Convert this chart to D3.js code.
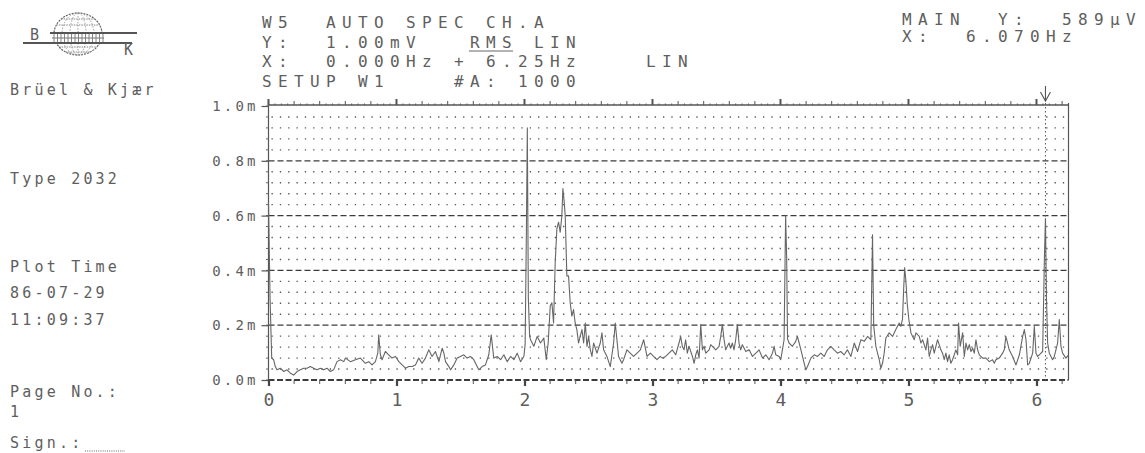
<!DOCTYPE html>
<html><head><meta charset="utf-8">
<script src="https://cdn.jsdelivr.net/npm/d3@7"></script>
<style>
html,body{margin:0;padding:0;background:#fff;}
svg{display:block;}
text{font-family:"DejaVu Sans Mono",monospace;fill:#5e5e5e;}
</style></head><body>
<svg id="c" width="1145" height="453"></svg>
<script>
// ---- data ----
const spectrum = [
[0.000,0.65],[0.012,0.30],[0.025,0.08],
[0.040,0.074],[0.053,0.049],[0.066,0.037],[0.092,0.043],[0.119,0.031],[0.145,0.037],[0.171,0.025],[0.197,0.018],[0.223,0.031],[0.249,0.037],[0.275,0.043],[0.301,0.043],[0.327,0.049],[0.353,0.043],[0.379,0.037],[0.405,0.043],[0.431,0.037],[0.457,0.043],[0.483,0.031],[0.509,0.037],[0.535,0.067],[0.562,0.074],[0.588,0.067],[0.601,0.080],[0.640,0.067],[0.679,0.074],[0.718,0.080],[0.757,0.061],[0.783,0.067],[0.809,0.055],[0.835,0.067],[0.854,0.098],[0.861,0.165],[0.874,0.092],[0.887,0.074],[0.913,0.104],[0.939,0.092],[0.965,0.080],[0.992,0.086],
[1.018,0.067],[1.044,0.055],[1.070,0.043],[1.096,0.049],[1.122,0.049],[1.148,0.055],[1.174,0.080],[1.200,0.061],[1.226,0.080],[1.252,0.110],[1.278,0.086],[1.304,0.104],[1.331,0.067],[1.357,0.116],[1.370,0.098],[1.383,0.067],[1.409,0.049],[1.422,0.037],[1.448,0.055],[1.474,0.080],[1.500,0.086],[1.526,0.092],[1.552,0.080],[1.578,0.086],[1.604,0.074],[1.630,0.049],[1.643,0.037],[1.669,0.049],[1.695,0.055],[1.721,0.092],[1.740,0.165],[1.760,0.080],[1.787,0.086],[1.813,0.074],[1.839,0.092],[1.865,0.067],[1.891,0.086],[1.917,0.074],[1.943,0.098],[1.969,0.067],[1.995,0.086],
[2.005,0.13],[2.015,0.55],[2.022,0.92],[2.030,0.30],[2.040,0.16],[2.047,0.147],[2.073,0.123],[2.099,0.159],[2.125,0.135],[2.151,0.153],[2.170,0.074],[2.185,0.135],[2.201,0.270],[2.214,0.282],[2.227,0.208],[2.240,0.429],[2.253,0.552],[2.266,0.576],[2.279,0.539],[2.292,0.600],[2.300,0.699],[2.310,0.650],[2.318,0.600],[2.331,0.380],[2.344,0.380],[2.357,0.282],[2.370,0.233],[2.383,0.257],[2.396,0.208],[2.409,0.184],[2.422,0.135],[2.435,0.159],[2.449,0.184],[2.462,0.135],[2.475,0.208],[2.488,0.123],[2.501,0.159],[2.514,0.110],[2.527,0.086],[2.540,0.135],[2.566,0.098],[2.592,0.135],[2.605,0.172],[2.618,0.110],[2.644,0.086],[2.670,0.049],[2.696,0.135],[2.709,0.208],[2.722,0.147],[2.735,0.086],[2.761,0.061],[2.774,0.074],[2.800,0.110],[2.826,0.098],[2.852,0.086],[2.879,0.098],[2.905,0.110],[2.931,0.147],[2.957,0.086],[2.983,0.098],
[3.009,0.086],[3.035,0.074],[3.061,0.086],[3.077,0.080],[3.103,0.086],[3.129,0.098],[3.155,0.110],[3.181,0.092],[3.207,0.135],[3.220,0.159],[3.233,0.123],[3.246,0.110],[3.259,0.147],[3.272,0.098],[3.285,0.123],[3.312,0.086],[3.325,0.061],[3.338,0.092],[3.351,0.110],[3.364,0.080],[3.377,0.202],[3.390,0.110],[3.403,0.123],[3.416,0.098],[3.442,0.110],[3.455,0.129],[3.468,0.123],[3.494,0.110],[3.520,0.123],[3.533,0.159],[3.546,0.202],[3.559,0.147],[3.572,0.110],[3.585,0.123],[3.598,0.135],[3.611,0.116],[3.624,0.135],[3.637,0.110],[3.650,0.147],[3.663,0.202],[3.676,0.135],[3.689,0.110],[3.702,0.129],[3.729,0.104],[3.755,0.110],[3.781,0.086],[3.807,0.098],[3.833,0.110],[3.859,0.080],[3.885,0.092],[3.911,0.074],[3.937,0.098],[3.950,0.123],[3.963,0.092],[3.989,0.086],
[4.002,0.074],[4.015,0.110],[4.028,0.147],[4.040,0.60],[4.048,0.45],[4.055,0.15],[4.067,0.135],[4.093,0.123],[4.119,0.141],[4.132,0.159],[4.146,0.135],[4.172,0.086],[4.185,0.061],[4.198,0.037],[4.211,0.049],[4.237,0.080],[4.263,0.092],[4.289,0.086],[4.315,0.098],[4.341,0.086],[4.367,0.110],[4.393,0.123],[4.419,0.110],[4.445,0.098],[4.471,0.104],[4.497,0.092],[4.523,0.110],[4.550,0.086],[4.576,0.135],[4.602,0.104],[4.628,0.147],[4.654,0.141],[4.680,0.159],[4.706,0.147],[4.719,0.53],[4.728,0.20],[4.745,0.123],[4.771,0.074],[4.784,0.043],[4.797,0.061],[4.810,0.098],[4.823,0.153],[4.849,0.172],[4.875,0.159],[4.901,0.184],[4.927,0.208],[4.940,0.196],[4.953,0.221],[4.962,0.33],[4.970,0.41],[4.980,0.36],[4.990,0.28],
[5.003,0.22],[5.019,0.172],[5.032,0.159],[5.045,0.147],[5.058,0.172],[5.084,0.159],[5.097,0.135],[5.110,0.147],[5.136,0.110],[5.149,0.153],[5.162,0.086],[5.175,0.110],[5.188,0.129],[5.201,0.098],[5.214,0.123],[5.227,0.147],[5.240,0.129],[5.253,0.110],[5.266,0.098],[5.279,0.074],[5.292,0.098],[5.305,0.067],[5.318,0.092],[5.331,0.061],[5.344,0.074],[5.370,0.110],[5.384,0.092],[5.391,0.208],[5.404,0.123],[5.423,0.172],[5.436,0.086],[5.449,0.135],[5.462,0.110],[5.475,0.129],[5.488,0.104],[5.501,0.116],[5.514,0.098],[5.527,0.147],[5.540,0.110],[5.553,0.092],[5.579,0.080],[5.605,0.080],[5.631,0.067],[5.657,0.074],[5.670,0.061],[5.683,0.074],[5.709,0.080],[5.735,0.098],[5.748,0.110],[5.761,0.159],[5.774,0.135],[5.787,0.110],[5.813,0.086],[5.840,0.055],[5.866,0.092],[5.892,0.159],[5.905,0.184],[5.918,0.147],[5.931,0.055],[5.944,0.061],[5.970,0.098],[5.983,0.196],[5.996,0.098],
[6.009,0.086],[6.022,0.092],[6.035,0.098],[6.048,0.104],[6.062,0.45],[6.070,0.589],[6.078,0.30],[6.087,0.135],[6.100,0.098],[6.126,0.074],[6.139,0.086],[6.165,0.135],[6.178,0.221],[6.191,0.123],[6.204,0.098],[6.230,0.080],[6.250,0.092]
];
const xTicks = [0,1,2,3,4,5,6];
const yTicks = [0,0.2,0.4,0.6,0.8,1.0];
const xDomain = [0, 6.25];
const yDomain = [0, 1.0];
const cursorHz = 6.070;
const headerLeft = ["W5  AUTO SPEC CH.A", "Y:  1.00mV   RMS LIN", "X:  0.000Hz + 6.25Hz    LIN", "SETUP W1    #A: 1000"];
const headerRight = ["MAIN  Y:  589µV", "X:  6.070Hz"];
const sideLabels = ["Brüel & Kjær", "Type 2032", "Plot Time", "86-07-29", "11:09:37", "Page No.:", "1", "Sign.:"];

// ---- drawing ----
const svg = d3.select("#c");
const x = d3.scaleLinear().domain(xDomain).range([268.5, 1068.5]);
const y = d3.scaleLinear().domain(yDomain).range([380, 106]);

// logo
const logo = svg.append("g");
const cx = 78, cy = 34, rx = 24, ry = 21;
logo.append("ellipse").attr("cx",cx).attr("cy",cy).attr("rx",rx).attr("ry",ry)
  .attr("fill","none").attr("stroke","#666").attr("stroke-width",1.2).attr("stroke-dasharray","2,1");
[16,8].forEach(r=>logo.append("ellipse").attr("cx",cx).attr("cy",cy).attr("rx",r).attr("ry",ry)
  .attr("fill","none").attr("stroke","#888").attr("stroke-width",0.8).attr("stroke-dasharray","1.5,1.5"));
logo.append("line").attr("x1",cx).attr("x2",cx).attr("y1",cy-ry).attr("y2",cy+ry).attr("stroke","#888").attr("stroke-width",0.8).attr("stroke-dasharray","1.5,1.5");
[-15,-9,13,18].forEach(dy=>{
  const hw = rx*Math.sqrt(1-(dy*dy)/(ry*ry));
  logo.append("line").attr("x1",cx-hw).attr("x2",cx+hw).attr("y1",cy+dy).attr("y2",cy+dy)
    .attr("stroke","#777").attr("stroke-width",0.9).attr("stroke-dasharray","1.5,1");
});
logo.append("rect").attr("x",52).attr("y",33).attr("width",52).attr("height",10).attr("fill","#fff");
d3.range(54,104,3.5).forEach(hx=>logo.append("line").attr("x1",hx).attr("x2",hx).attr("y1",34).attr("y2",42).attr("stroke","#777").attr("stroke-width",0.9));
logo.append("line").attr("x1",50).attr("x2",137).attr("y1",33).attr("y2",33).attr("stroke","#555").attr("stroke-width",1.8);
logo.append("line").attr("x1",23).attr("x2",132).attr("y1",43).attr("y2",43).attr("stroke","#555").attr("stroke-width",1.8);
logo.append("line").attr("x1",52).attr("x2",104).attr("y1",38).attr("y2",38).attr("stroke","#777").attr("stroke-width",1);
logo.append("text").attr("x",30).attr("y",40).attr("font-size",15).text("B");
logo.append("text").attr("x",124).attr("y",55).attr("font-size",15).text("K");

// side labels
const sidePos = [[10,95],[10,184],[10,272],[10,298],[10,325],[10,397],[10,417],[10,448]];
svg.append("g").selectAll("text").data(sideLabels).join("text")
  .attr("x",(d,i)=>sidePos[i][0]).attr("y",(d,i)=>sidePos[i][1])
  .attr("font-size",15).attr("letter-spacing",3.2).text(d=>d);
svg.append("line").attr("x1",85).attr("x2",125).attr("y1",451).attr("y2",451)
  .attr("stroke","#666").attr("stroke-width",1).attr("stroke-dasharray","1,1.2");

// header
const hl = svg.append("g").attr("font-size",16).attr("letter-spacing",6.37);
hl.selectAll("text").data(headerLeft).join("text")
  .attr("x",262).attr("y",(d,i)=>28+i*19.7).style("white-space","pre").text(d=>d);
// RMS underline (columns 13..15 at 16px pitch), just under line 2
svg.append("line").attr("x1",262+13*16-1).attr("x2",262+15*16+11).attr("y1",51).attr("y2",51)
  .attr("stroke","#666").attr("stroke-width",1.2);
const hr = svg.append("g").attr("font-size",16).attr("letter-spacing",6.37);
hr.selectAll("text").data(headerRight).join("text")
  .attr("x",902).attr("y",(d,i)=>25+i*17).style("white-space","pre").text(d=>d);

// grid: dotted rows every 0.04, dashed every 0.2
const dotRows = d3.range(1,25).map(i=>i*0.04).filter(v=>Math.abs(v/0.2-Math.round(v/0.2))>1e-6);
svg.append("g").selectAll("line").data(dotRows).join("line")
  .attr("x1",x(0)+3).attr("x2",x(6.25)-2).attr("y1",d=>y(d)).attr("y2",d=>y(d))
  .attr("stroke","#555").attr("stroke-width",1.4).attr("stroke-dasharray","1.3,7.03");
svg.append("g").selectAll("line").data([0.2,0.4,0.6,0.8]).join("line")
  .attr("x1",x(0)).attr("x2",x(6.25)).attr("y1",d=>y(d)).attr("y2",d=>y(d))
  .attr("stroke","#3c3c3c").attr("stroke-width",1.3).attr("stroke-dasharray","6,3");
svg.append("line").attr("x1",x(0)).attr("x2",x(6.25)).attr("y1",y(0)).attr("y2",y(0))
  .attr("stroke","#3c3c3c").attr("stroke-width",2).attr("stroke-dasharray","6,2.5");

// top ruler & borders
const ruler = svg.append("g").attr("stroke","#555");
ruler.append("line").attr("x1",x(0)).attr("x2",x(6.25)).attr("y1",105).attr("y2",105).attr("stroke-width",1.3);
ruler.selectAll("line.s").data(d3.range(0,126).map(i=>i*0.05)).join("line").attr("class","s")
  .attr("x1",d=>x(d)).attr("x2",d=>x(d)).attr("y1",105).attr("y2",d=>{
    const r=Math.round(d*100);
    if(r%100===0) return 99; if(r%20===0) return 101; return 103.5;})
  .attr("stroke-width",d=>Math.round(d*100)%100===0?2:1);
svg.append("line").attr("x1",x(6.25)).attr("x2",x(6.25)).attr("y1",103).attr("y2",380).attr("stroke","#555").attr("stroke-width",1.2);
svg.append("line").attr("x1",x(0)).attr("x2",x(0)).attr("y1",102).attr("y2",382).attr("stroke","#555").attr("stroke-width",1.2);
svg.append("g").selectAll("line").data(d3.range(0,26).map(i=>i*0.04)).join("line")
  .attr("x1",x(0)-2.5).attr("x2",x(0)).attr("y1",d=>y(d)).attr("y2",d=>y(d)).attr("stroke","#666").attr("stroke-width",1);

// axes
const ya = svg.append("g").attr("transform",`translate(${x(0)},0)`)
  .call(d3.axisLeft(y).tickValues(yTicks).tickFormat(d=>d.toFixed(1)+"m").tickSizeInner(7).tickSizeOuter(0).tickPadding(6));
ya.select(".domain").remove();
ya.selectAll("line").attr("stroke","#555").attr("stroke-width",1.2);
ya.selectAll("text").attr("font-size",14).attr("letter-spacing",3.2).attr("font-family","DejaVu Sans Mono").attr("fill","#5e5e5e").attr("dy","0.34em").attr("dx",3.2);

const xa = svg.append("g").attr("transform",`translate(0,${y(0)})`)
  .call(d3.axisBottom(x).tickValues(xTicks).tickFormat(d3.format("d")).tickSizeInner(6).tickSizeOuter(0).tickPadding(7));
xa.select(".domain").remove();
xa.selectAll("line").attr("stroke","#444").attr("stroke-width",2.2);
xa.selectAll("text").attr("font-size",18).attr("font-family","DejaVu Sans Mono").attr("fill","#5e5e5e");
svg.append("g").selectAll("line").data(d3.range(0,32).map(i=>i*0.2).filter(d=>Math.abs(d-Math.round(d))>1e-6 && d<=6.25)).join("line")
  .attr("x1",d=>x(d)).attr("x2",d=>x(d)).attr("y1",y(0)).attr("y2",y(0)+4).attr("stroke","#555").attr("stroke-width",1);

// cursor
const cx0 = x(cursorHz);
svg.append("line").attr("x1",cx0).attr("x2",cx0).attr("y1",103).attr("y2",380)
  .attr("stroke","#555").attr("stroke-width",1).attr("stroke-dasharray","1.5,2.5");
svg.append("path").attr("d",`M${cx0},86V101M${cx0-5},92L${cx0},101L${cx0+5},92`)
  .attr("fill","none").attr("stroke","#555").attr("stroke-width",1.1);

// spectrum trace
svg.append("path").datum(spectrum)
  .attr("d",d3.line().x(d=>x(d[0])).y(d=>y(d[1])))
  .attr("fill","none").attr("stroke","#666").attr("stroke-width",1.1).attr("stroke-linejoin","round");
</script>
</body></html>
